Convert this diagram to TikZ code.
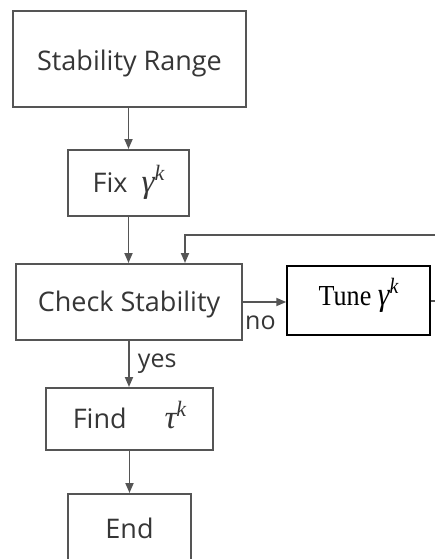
\documentclass[tikz,border=0pt]{standalone}
\usepackage{fontspec}
\setmainfont{Open Sans}
\newfontfamily\serifface{Liberation Serif}
\usetikzlibrary{arrows.meta,calc}
\definecolor{linegray}{HTML}{555555}
\definecolor{textgray}{HTML}{363636}
% italic serif symbol with an italic superscript k
\newcommand\symk[1]{{\serifface\itshape\fontsize{33}{34}\selectfont #1\raisebox{0.36em}{\fontsize{22}{23}\selectfont k}}}
% text whose baseline sits #1 above the node centre
\newcommand\atbase[2]{\smash{\raisebox{#1}{#2}}}
\begin{document}
\begin{tikzpicture}[x=1pt,y=-1pt,
  box/.style={draw=linegray,line width=2pt,text=textgray,
    font=\fontsize{27}{30}\selectfont,inner sep=0pt,anchor=center},
  serifbox/.style={draw=black,line width=1.5pt,text=black,
    font=\serifface\fontsize{29}{32}\selectfont,inner sep=0pt,anchor=center},
  flow/.style={draw=linegray,line width=1.8pt,
    -{Triangle[length=10pt,width=8pt]}},
  lbl/.style={text=textgray,font=\fontsize{25}{27}\selectfont,inner sep=0pt}]
\useasboundingbox (0,0) rectangle (435,559);
\clip (0,0) rectangle (435,559);
\fill[white] (0,0) rectangle (435,559);

\node[box,minimum width=233pt,minimum height=96pt] (range) at (129.5,59) {\atbase{-11.5pt}{Stability Range}};
\node[box,minimum width=121pt,minimum height=66pt] (fix) at (128.5,183) {\atbase{-9.6pt}{Fix\hspace{14pt}\symk{γ}}};
\node[box,minimum width=226pt,minimum height=76pt] (check) at (129,302) {\atbase{-9.6pt}{Check Stability}};
\node[serifbox,minimum width=143pt,minimum height=69pt] (tune) at (358.5,300.5)
  {\atbase{-5pt}{\scalebox{0.9}[1]{Tune \symk{γ}}}};
\node[box,minimum width=167pt,minimum height=62pt] (find) at (129.5,419) {\atbase{-9.6pt}{Find\hspace{38pt}\symk{τ}}};
\node[box,minimum width=123pt,minimum height=100pt] (end) at (129.5,544) {\atbase{5.4pt}{End}};

\draw[flow] (range.south -| fix.north) -- (fix.north);
\draw[flow] (fix.south) -- (fix.south |- check.north);
\draw[flow] (check.south) -- node[lbl,right=8pt,pos=0.5]{yes} (check.south |- find.north);
\draw[flow] (find.south) -- (find.south |- end.north);
\draw[flow] (check.east) -- (check.east -| tune.west);
\node[lbl,anchor=west] (no) at (245,323) {no};

% feedback loop from the tuning step back into the check
\coordinate (loopr) at (445,301);
\coordinate (loopt) at (445,235);
\coordinate (loopl) at (185,235);
\draw[flow] (tune.east |- loopr) -- (loopr) -- (loopt) -- (loopl) -- (loopl |- check.north);
\end{tikzpicture}
\end{document}
